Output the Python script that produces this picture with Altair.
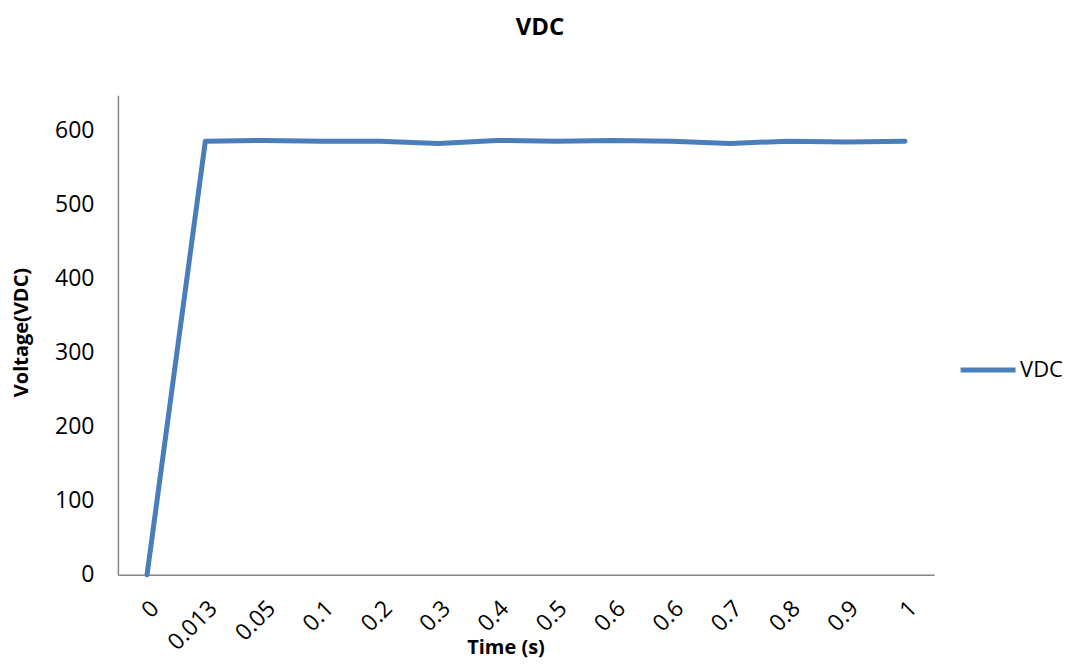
import altair as alt
import pandas as pd

time_labels = ["0", "0.013", "0.05", "0.1", "0.2", "0.3", "0.4", "0.5", "0.6", "0.6", "0.7", "0.8", "0.9", "1"]
vdc_values = [0, 585, 586, 585, 585, 582, 586, 585, 586, 585, 582, 585, 584, 585]
series_name = "VDC"

df = pd.DataFrame({
    "idx": list(range(len(time_labels))),
    "label": time_labels,
    "value": vdc_values,
    "series": [series_name] * len(time_labels),
})

label_array = "[" + ",".join("'" + s + "'" for s in time_labels) + "]"
FONT = "Open Sans"

chart = alt.Chart(df).mark_line(strokeWidth=5, strokeCap="round", strokeJoin="round").encode(
    x=alt.X("idx:O", scale=alt.Scale(type="point", padding=0.5),
            axis=alt.Axis(title="Time (s)", labelExpr=label_array + "[datum.value]",
                          labelAngle=-45, ticks=False, grid=False, domainColor="#868686",
                          domainWidth=1.5, labelFontSize=23, labelFont=FONT, labelColor="#000000",
                          labelPadding=22, titleFont=FONT, titleFontSize=20,
                          titleFontWeight="bold", titleColor="#000000", titleX=388, titleY=73,
                          titleBaseline="middle", titleAlign="center")),
    y=alt.Y("value:Q", scale=alt.Scale(domain=[0, 647], nice=False, zero=True),
            axis=alt.Axis(title="Voltage(VDC)", values=[0, 100, 200, 300, 400, 500, 600],
                          ticks=False, grid=False, domainColor="#868686", domainWidth=1.5,
                          labelFontSize=23, labelFont=FONT, labelColor="#000000", labelPadding=24,
                          titleFont=FONT, titleFontSize=20, titleFontWeight="bold",
                          titleColor="#000000", titleX=-96, titleY=237, titleBaseline="middle",
                          titleAlign="center")),
    color=alt.Color("series:N", scale=alt.Scale(domain=[series_name], range=["#4A7EBB"]),
                    legend=alt.Legend(title=None, orient="none", legendX=841, legendY=245,
                                      symbolType="stroke", symbolSize=3025, symbolStrokeWidth=5,
                                      labelFontSize=22, labelFont=FONT, labelColor="#000000",
                                      labelOffset=2)),
).properties(
    width=817,
    height=480,
    title=alt.TitleParams("VDC", font=FONT, fontSize=24, fontWeight="bold", color="#000000",
                          anchor="middle", offset=55, dx=14),
    autosize=alt.AutoSizeParams(type="none"),
    padding={"left": 110, "top": 87, "right": 130, "bottom": 92},
).configure_view(stroke=None)

chart.save("out.html", embed_options={"renderer": "svg", "actions": False})
